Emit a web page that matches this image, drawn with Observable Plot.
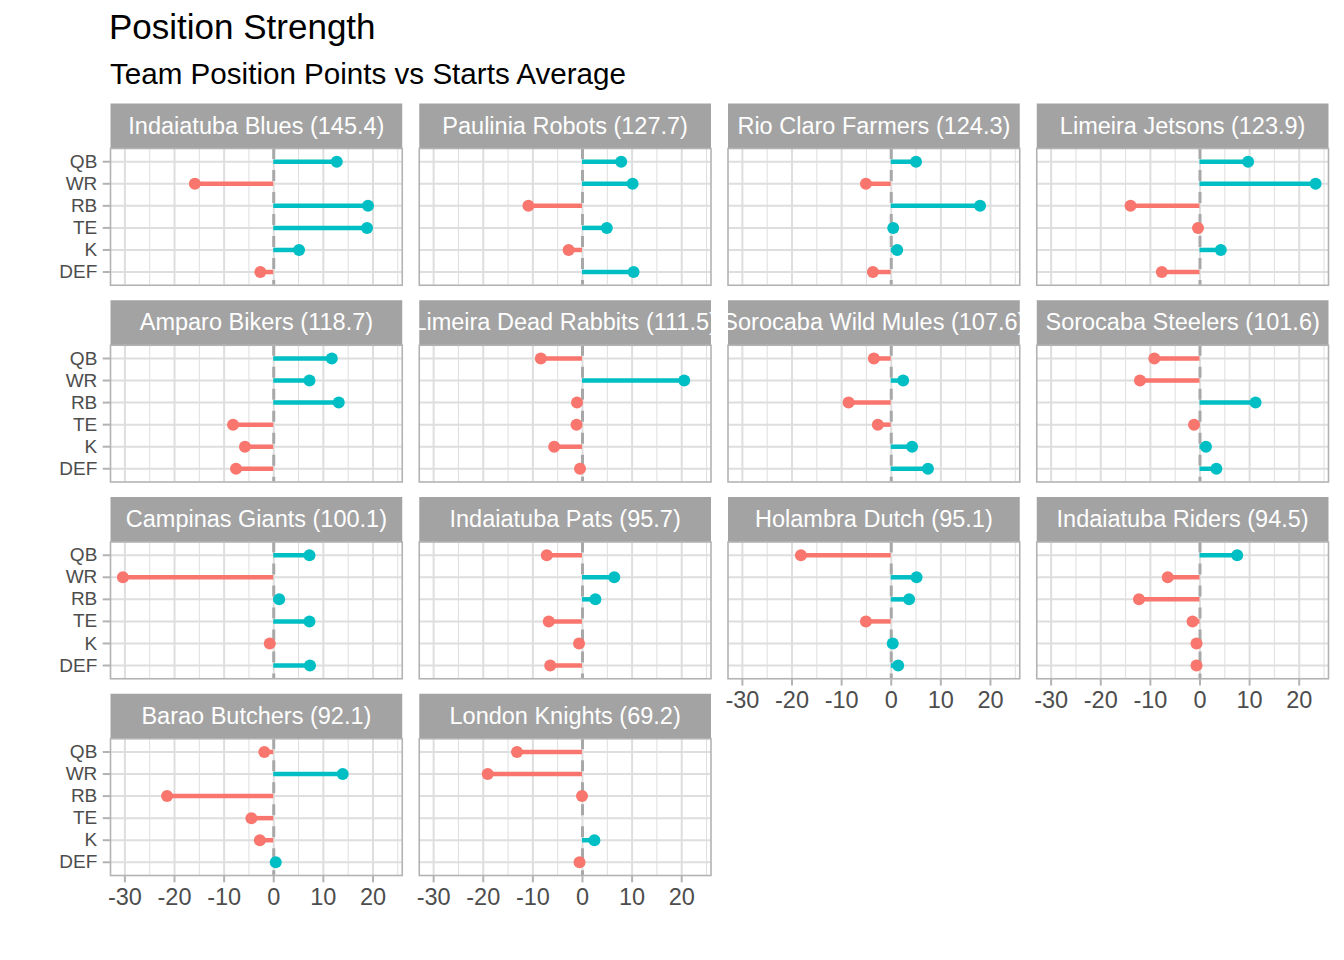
<!DOCTYPE html>
<html>
<head>
<meta charset="utf-8">
<script src="https://cdn.jsdelivr.net/npm/d3@7"></script>
<script src="https://cdn.jsdelivr.net/npm/@observablehq/plot@0.6"></script>
<style>
  html, body { margin: 0; padding: 0; background: #fff; }
  #wrap { position: relative; width: 1344px; height: 960px; font-family: "Liberation Sans", Arial, Helvetica, sans-serif; }
  #title { position: absolute; left: 109px; top: 9px; font-size: 35px; line-height: 35px; color: #000; white-space: nowrap; }
  #subtitle { position: absolute; left: 110px; top: 59px; font-size: 29.6px; line-height: 29.6px; color: #000; white-space: nowrap; }
  #chart { position: absolute; left: 0; top: 95px; }
</style>
</head>
<body>
<div id="wrap">
  <div id="title">Position Strength</div>
  <div id="subtitle">Team Position Points vs Starts Average</div>
  <div id="chart"></div>
</div>
<script>
// ---- data ----
const teams = [
  "Indaiatuba Blues", "Paulinia Robots", "Rio Claro Farmers", "Limeira Jetsons",
  "Amparo Bikers", "Limeira Dead Rabbits", "Sorocaba Wild Mules", "Sorocaba Steelers",
  "Campinas Giants", "Indaiatuba Pats", "Holambra Dutch", "Indaiatuba Riders",
  "Barao Butchers", "London Knights"
];
const teamTotals = [145.4, 127.7, 124.3, 123.9, 118.7, 111.5, 107.6, 101.6, 100.1, 95.7, 95.1, 94.5, 92.1, 69.2];
const positions = ["QB", "WR", "RB", "TE", "K", "DEF"];
// values per team, in the order of positions (QB, WR, RB, TE, K, DEF)
const indaiatubaBlues   = [12.7, -15.9, 19.0, 18.8, 5.1, -2.7];
const pauliniaRobots    = [7.8, 10.1, -10.9, 4.9, -2.8, 10.3];
const rioClaroFarmers   = [5.0, -5.1, 17.9, 0.4, 1.2, -3.7];
const limeiraJetsons    = [9.7, 23.3, -14.0, -0.4, 4.2, -7.7];
const amparoBikers      = [11.7, 7.2, 13.1, -8.2, -5.8, -7.6];
const limeiraDeadRabbits= [-8.4, 20.5, -1.1, -1.2, -5.7, -0.5];
const sorocabaWildMules = [-3.5, 2.4, -8.6, -2.7, 4.2, 7.4];
const sorocabaSteelers  = [-9.2, -12.1, 11.2, -1.2, 1.2, 3.3];
const campinasGiants    = [7.2, -30.4, 1.1, 7.2, -0.8, 7.3];
const indaiatubaPats    = [-7.2, 6.4, 2.6, -6.8, -0.7, -6.5];
const holambraDutch     = [-18.2, 5.1, 3.6, -5.1, 0.3, 1.4];
const indaiatubaRiders  = [7.5, -6.5, -12.3, -1.5, -0.7, -0.7];
const baraoButchers     = [-1.9, 13.9, -21.5, -4.5, -2.8, 0.4];
const londonKnights     = [-13.2, -19.1, -0.1, null, 2.4, -0.6];
const teamValues = [
  indaiatubaBlues, pauliniaRobots, rioClaroFarmers, limeiraJetsons,
  amparoBikers, limeiraDeadRabbits, sorocabaWildMules, sorocabaSteelers,
  campinasGiants, indaiatubaPats, holambraDutch, indaiatubaRiders,
  baraoButchers, londonKnights
];
const xTicks = [-30, -20, -10, 0, 10, 20];
const xMinor = [-25, -15, -5, 5, 15, 25];

// ---- tables built from the arrays ----
const NCOL = 4;
const teamRows = teams.map((t, i) => ({
  team: t,
  label: `${t} (${teamTotals[i].toFixed(1)})`,
  col: i % NCOL,
  row: Math.floor(i / NCOL)
}));
const rows = [];
teams.forEach((t, i) => {
  positions.forEach((p, j) => {
    const v = teamValues[i][j];
    if (v == null) return;
    rows.push({team: t, pos: p, value: v, sign: v >= 0 ? "pos" : "neg", col: i % NCOL, row: Math.floor(i / NCOL)});
  });
});

const RED = "#F8766D", TEAL = "#00BFC4";
const fmt = d => (d < 0 ? "-" + Math.abs(d) : String(d));

const W = 1344, H = 845;
const mTop = 53, mBottom = 65, mLeft = 110, mRight = 16;
const colGap = 17, rowGap = 60;
const bandW = (W - mLeft - mRight - 3 * colGap) / 4;
const bandH = (H - mTop - mBottom - 3 * rowGap) / 4;
const stripH = 45;

const chart = Plot.plot({
  width: W,
  height: H,
  marginTop: mTop,
  marginBottom: mBottom,
  marginLeft: mLeft,
  marginRight: mRight,
  style: {fontFamily: "Liberation Sans, Arial, Helvetica, sans-serif", background: "white", overflow: "visible"},
  fx: {domain: [0, 1, 2, 3], axis: null, paddingInner: colGap / (bandW + colGap), paddingOuter: 0, round: false, label: null},
  fy: {domain: [0, 1, 2, 3], axis: null, paddingInner: rowGap / (bandH + rowGap), paddingOuter: 0, round: false, label: null},
  x: {domain: [-32.9, 25.9], label: null},
  y: {type: "point", domain: positions, padding: 0.6, round: false, label: null},
  color: {domain: ["neg", "pos"], range: [RED, TEAL]},
  marks: [
    // strip background
    Plot.frame({fill: "#A3A3A3", stroke: null, insetTop: -stripH, insetBottom: bandH}),
    // grids
    Plot.gridX(xMinor, {stroke: "#DEDEDE", strokeOpacity: 1, strokeWidth: 1}),
    Plot.gridX(xTicks, {stroke: "#DEDEDE", strokeOpacity: 1, strokeWidth: 2}),
    Plot.gridY({stroke: "#DEDEDE", strokeOpacity: 1, strokeWidth: 2}),
    // zero line
    Plot.ruleX([0], {stroke: "#A8A8A8", strokeWidth: 3, strokeDasharray: "11,11"}),
    // lollipops
    Plot.ruleY(rows, {fx: "col", fy: "row", y: "pos", x1: 0, x2: "value", stroke: "sign", strokeWidth: 4.5}),
    Plot.dot(rows, {fx: "col", fy: "row", x: "value", y: "pos", fill: "sign", r: 6, stroke: null}),
    // panel border
    Plot.frame({stroke: "#B3B3B3", strokeWidth: 1.6}),
    // strip labels
    Plot.text(teamRows, {fx: "col", fy: "row", text: "label", frameAnchor: "top", lineAnchor: "middle", dy: -stripH / 2, fill: "white", fontSize: 23.5}),
    // axes
    Plot.axisY({tickSize: 7.3, tickPadding: 5.9, fontSize: 19, fill: "#4D4D4D", stroke: "#B3B3B3", strokeWidth: 2, label: null}),
    Plot.axisX(xTicks, {facetAnchor: "bottom-empty", tickSize: 7.3, tickPadding: 5.5, fontSize: 23.5, fill: "#4D4D4D", stroke: "#B3B3B3", strokeWidth: 2, tickFormat: fmt, label: null})
  ]
});
document.getElementById("chart").appendChild(chart);
</script>
</body>
</html>
